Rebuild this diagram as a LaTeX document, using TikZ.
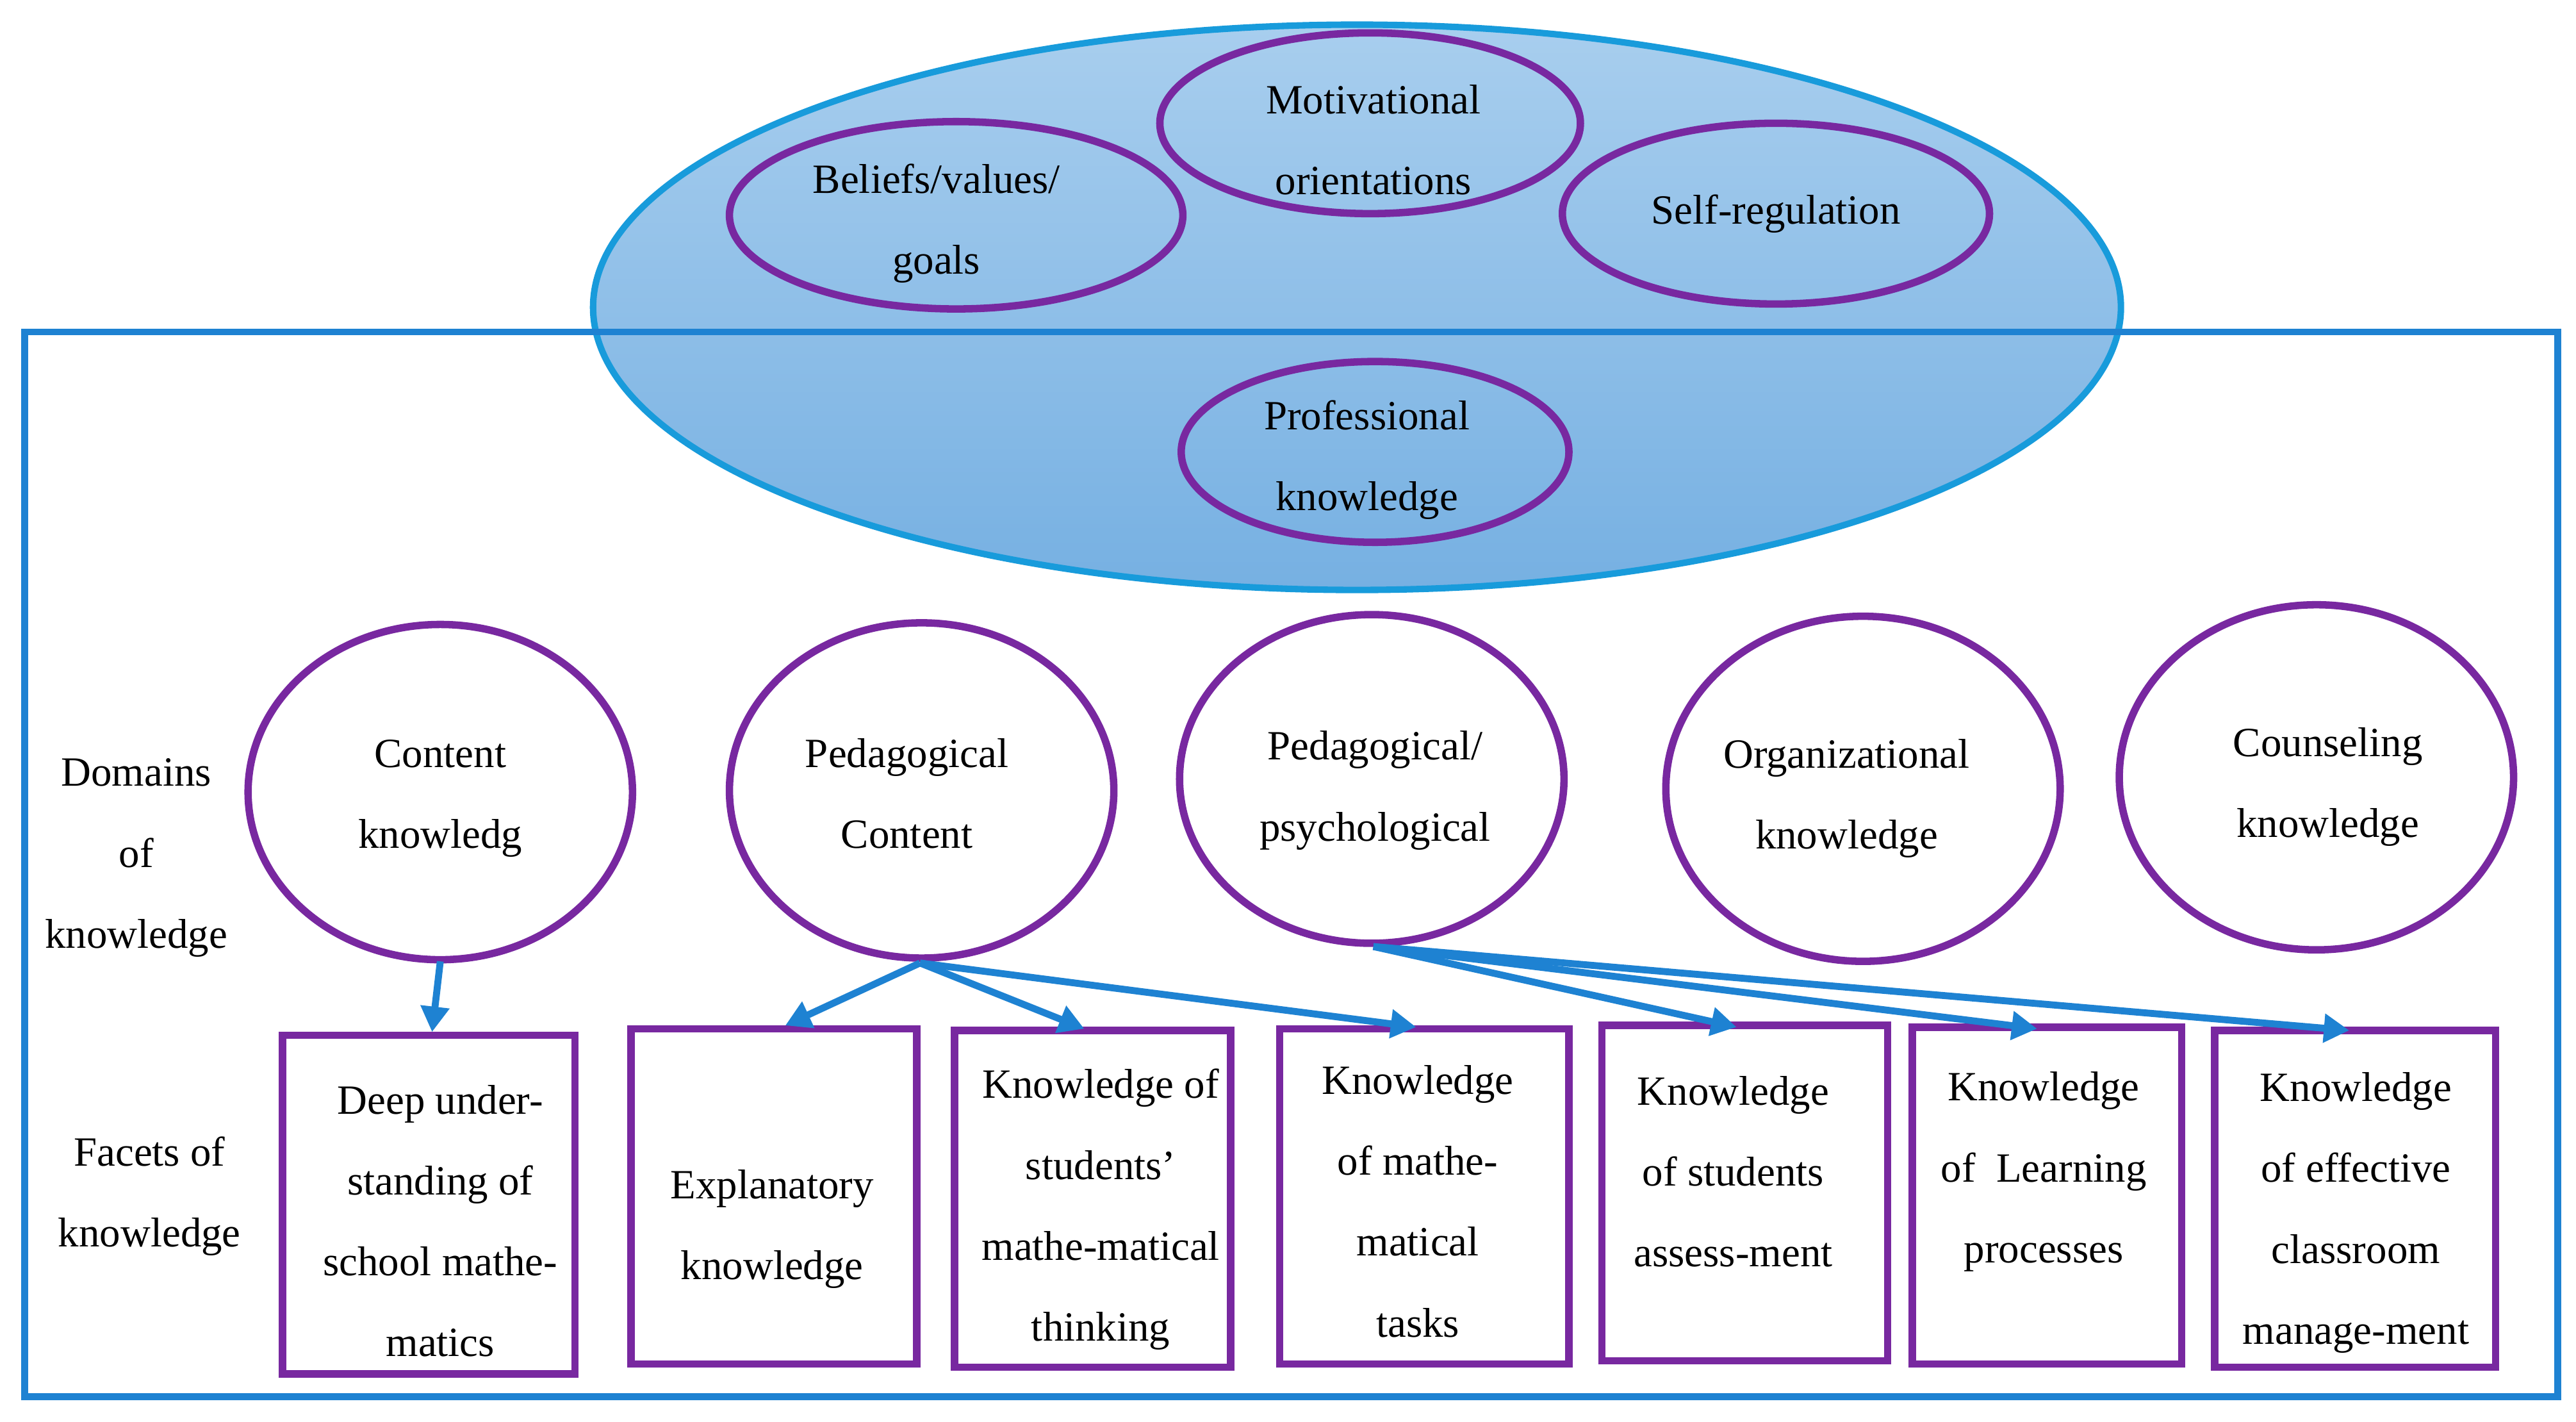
\documentclass[tikz,border=0pt]{standalone}
\usepackage{fontspec}
\setmainfont{Liberation Serif}
\usetikzlibrary{arrows.meta}
\definecolor{pur}{RGB}{120,40,160}
\definecolor{bl}{RGB}{30,130,210}
\definecolor{topb}{RGB}{168,206,238}
\definecolor{botb}{RGB}{118,176,226}
\begin{document}
\begin{tikzpicture}[x=0.025cm,y=-0.025cm,
  txt/.style={font=\fontsize{18}{35}\selectfont,align=center},
  ov/.style={draw=pur,line width=3.2pt},
  box/.style={draw=pur,line width=3.2pt},
  arr/.style={draw=bl,line width=3pt,-{Triangle[length=11pt,width=12pt]}}]
\useasboundingbox (0,0) rectangle (1568,865);
\shade[top color=topb,bottom color=botb,draw=bl!80!cyan,line width=2.8pt] (826,187) ellipse [x radius=465,y radius=172];
\draw[bl,line width=3pt] (15,202) rectangle (1557,850);
\draw[ov] (582,131) ellipse [x radius=138,y radius=57];
\draw[ov] (834,75) ellipse [x radius=128,y radius=55];
\draw[ov] (1081,130) ellipse [x radius=130,y radius=55];
\draw[ov] (837,275) ellipse [x radius=118,y radius=55];
\node[txt] (bel) at (570,136) {Beliefs/values/\\goals};
\node[txt] (mot) at (836,85) {Motivational\\orientations};
\node[txt] (self) at (1081,130) {Self-regulation};
\node[txt] (prof) at (832,280) {Professional\\knowledge};
\foreach \n/\x/\y/\rx/\ry in {c1/268/482/117/102,c2/561/481/117/102,c3/835/474/117/100,c4/1134/480/120/105,c5/1410/473/120/105}{
  \draw[ov] (\x,\y) ellipse [x radius=\rx,y radius=\ry];
  \coordinate (\n) at (\x,\y);}
\node[txt] at (268,486) {Content\\knowledg};
\node[txt] at (552,483) {Pedagogical\\Content};
\node[txt] at (837,481) {Pedagogical/\\psychological};
\node[txt] at (1124,486) {Organizational\\knowledge};
\node[txt] at (1417,479) {Counseling\\knowledge};
\node[txt] (dom) at (83,522) {Domains\\of\\knowledge};
\node[txt] (fac) at (91,728) {Facets of\\knowledge};
\foreach \n/\a/\b/\c/\d in {b1/172/630/350/836,b2/384/626/558/830,b3/581/627/749/832,b4/779/626/955/830,b5/975/624/1149/828,b6/1164/625/1328/830,b7/1348/627/1519/832}{
  \draw[box] (\a,\b) rectangle (\c,\d);}
\node[txt] at (268,743) {Deep under-\\standing of\\school mathe-\\matics};
\node[txt] at (470,748) {Explanatory\\knowledge};
\node[txt] at (670,736) {Knowledge of\\students'\\mathe-matical\\thinking};
\node[txt] at (863,731) {Knowledge\\of mathe-\\matical\\tasks};
\node[txt] at (1055,713) {Knowledge\\of students\\assess-ment};
\node[txt] at (1244,713) {Knowledge\\of~ Learning\\processes};
\node[txt] at (1434,738) {Knowledge\\of effective\\classroom\\manage-ment};
\coordinate (s1) at (268,585); \coordinate (t1) at (263,628);
\coordinate (s2) at (560,586);
\coordinate (t2) at (478,624); \coordinate (t3) at (660,626); \coordinate (t4) at (862,625);
\coordinate (s3) at (836,576);
\coordinate (t5) at (1057,625); \coordinate (t6) at (1240,626); \coordinate (t7) at (1430,627);
\draw[arr] (s1) -- (t1);
\draw[arr] (s2) -- (t2);
\draw[arr] (s2) -- (t3);
\draw[arr] (s2) -- (t4);
\draw[arr] (s3) -- (t5);
\draw[arr] (s3) -- (t6);
\draw[arr] (s3) -- (t7);
\end{tikzpicture}
\end{document}
